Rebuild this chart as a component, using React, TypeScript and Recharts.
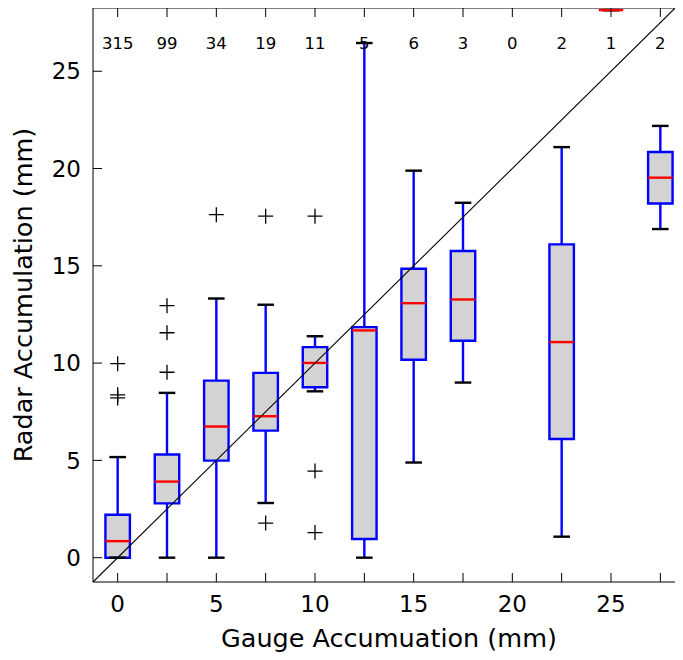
import React from 'react';
import { ComposedChart, XAxis, YAxis, ReferenceArea, ReferenceLine, Scatter } from 'recharts';

// Gauge accumulation bins (box positions) and sample counts
const positions = [0, 2.5, 5, 7.5, 10, 12.5, 15, 17.5, 20, 22.5, 25, 27.5];
const counts = [315, 99, 34, 19, 11, 5, 6, 3, 0, 2, 1, 2];

// Box statistics (radar accumulation, mm); null = empty bin
const whiskerLow = [0, 0, 0, 2.81, 8.55, 0, 4.89, 9.0, null, 1.08, 28.14, 16.89];
const q1s = [0, 2.79, 4.99, 6.53, 8.76, 0.96, 10.17, 11.15, null, 6.1, 28.14, 18.2];
const medians = [0.85, 3.91, 6.74, 7.27, 10.01, 11.68, 13.08, 13.27, null, 11.08, 28.14, 19.53];
const q3s = [2.21, 5.3, 9.1, 9.5, 10.82, 11.85, 14.85, 15.76, null, 16.1, 28.14, 20.85];
const whiskerHigh = [5.17, 8.47, 13.32, 13.0, 11.38, 26.45, 19.89, 18.24, null, 21.1, 28.14, 22.19];

// Outliers
const flierX = [0, 0, 0, 2.5, 2.5, 2.5, 5, 7.5, 7.5, 10, 10, 10];
const flierY = [9.97, 8.37, 8.21, 9.53, 11.56, 12.95, 17.63, 17.55, 1.78, 17.55, 4.45, 1.29];

// Axes
const xTicks = [0, 2.5, 5, 7.5, 10, 12.5, 15, 17.5, 20, 22.5, 25, 27.5];
const yTicks = [0, 5, 10, 15, 20, 25];
const xDomain = [-1.25, 28.75];
const yDomain = [-1.25, 28.25];
const countLabelY = 26.45;
const diagonal = [-1.25, 28.25];

const BOX_HALF = 0.62;
const CAP_HALF = 0.42;
const LW = 2.4;
const FONT = '"DejaVu Sans", Verdana, sans-serif';

const PlusMarker = (p: any) => {
  const { cx, cy } = p;
  if (cx == null || cy == null) return null;
  return (
    <path
      d={`M${cx - 7.5},${cy}H${cx + 7.5}M${cx},${cy - 7.5}V${cy + 7.5}`}
      stroke="#000"
      strokeWidth={1.3}
      fill="none"
    />
  );
};

const CountText = (p: any) => {
  const { cx, cy, payload } = p;
  if (cx == null || cy == null) return null;
  return (
    <text x={cx} y={cy} dy="0.36em" textAnchor="middle" fontSize={16.5} fontFamily={FONT} fill="#000">
      {payload.n}
    </text>
  );
};

const Hidden = () => null;

export default function App() {
  const boxes = positions
    .map((x, i) => ({
      x,
      lo: whiskerLow[i],
      q1: q1s[i],
      med: medians[i],
      q3: q3s[i],
      hi: whiskerHigh[i],
    }))
    .filter((b) => b.med != null) as { x: number; lo: number; q1: number; med: number; q3: number; hi: number }[];
  const fliers = flierX.map((x, i) => ({ x, y: flierY[i] }));
  const countData = positions.map((x, i) => ({ x, y: countLabelY, n: counts[i] }));

  const tickStyle = { fill: '#000', fontSize: 23, fontFamily: FONT };

  return (
    <div style={{ margin: -8, width: 683, height: 660, overflow: 'hidden', background: '#fff' }}>
      <ComposedChart width={700} height={660} margin={{ top: 7, right: 14, bottom: 0, left: 0 }}>
        <XAxis
          xAxisId="b"
          type="number"
          dataKey="x"
          domain={xDomain}
          allowDataOverflow
          ticks={xTicks}
          interval={0}
          tickFormatter={(v: number) => (v % 5 === 0 ? String(v) : '')}
          tickSize={-9}
          tickMargin={23}
          height={78}
          stroke="#000"
          tick={tickStyle}
          label={{
            value: 'Gauge Accumuation (mm)',
            position: 'insideBottom',
            offset: 13,
            fill: '#000',
            fontSize: 25.5,
            fontFamily: FONT,
          }}
        />
        <XAxis
          xAxisId="t"
          orientation="top"
          type="number"
          dataKey="x"
          domain={xDomain}
          allowDataOverflow
          ticks={xTicks}
          interval={0}
          tickFormatter={() => ''}
          tick={tickStyle}
          tickSize={-9}
          height={1}
          stroke="#000"
        />
        <YAxis
          yAxisId="l"
          type="number"
          dataKey="y"
          domain={yDomain}
          allowDataOverflow
          ticks={yTicks}
          interval={0}
          tickSize={-9}
          tickMargin={21}
          width={93}
          stroke="#000"
          tick={tickStyle}
          label={{
            value: 'Radar Accumulation (mm)',
            angle: -90,
            position: 'insideLeft',
            offset: 23,
            fill: '#000',
            fontSize: 25.5,
            fontFamily: FONT,
            style: { textAnchor: 'middle' },
          }}
        />
        <YAxis
          yAxisId="r"
          orientation="right"
          type="number"
          dataKey="y"
          domain={yDomain}
          allowDataOverflow
          ticks={yTicks}
          interval={0}
          tickFormatter={() => ''}
          tick={tickStyle}
          tickSize={-9}
          width={1}
          stroke="#000"
        />

        {boxes.map((b) => (
          <ReferenceArea
            key={`box-${b.x}`}
            xAxisId="b"
            yAxisId="l"
            x1={b.x - BOX_HALF}
            x2={b.x + BOX_HALF}
            y1={b.q1}
            y2={b.q3}
            fill="#d3d3d3"
            fillOpacity={1}
            stroke="#0000ff"
            strokeWidth={LW}
            ifOverflow="visible"
          />
        ))}
        {boxes.map((b) => (
          <ReferenceLine
            key={`wl-${b.x}`}
            xAxisId="b"
            yAxisId="l"
            segment={[{ x: b.x, y: b.lo }, { x: b.x, y: b.q1 }]}
            stroke="#0000ff"
            strokeWidth={LW}
            ifOverflow="visible"
          />
        ))}
        {boxes.map((b) => (
          <ReferenceLine
            key={`wh-${b.x}`}
            xAxisId="b"
            yAxisId="l"
            segment={[{ x: b.x, y: b.q3 }, { x: b.x, y: b.hi }]}
            stroke="#0000ff"
            strokeWidth={LW}
            ifOverflow="visible"
          />
        ))}
        {boxes.map((b) => (
          <ReferenceLine
            key={`cl-${b.x}`}
            xAxisId="b"
            yAxisId="l"
            segment={[{ x: b.x - CAP_HALF, y: b.lo }, { x: b.x + CAP_HALF, y: b.lo }]}
            stroke="#000"
            strokeWidth={LW}
            ifOverflow="visible"
          />
        ))}
        {boxes.map((b) => (
          <ReferenceLine
            key={`ch-${b.x}`}
            xAxisId="b"
            yAxisId="l"
            segment={[{ x: b.x - CAP_HALF, y: b.hi }, { x: b.x + CAP_HALF, y: b.hi }]}
            stroke="#000"
            strokeWidth={LW}
            ifOverflow="visible"
          />
        ))}
        {boxes.map((b) => (
          <ReferenceLine
            key={`md-${b.x}`}
            xAxisId="b"
            yAxisId="l"
            segment={[{ x: b.x - BOX_HALF, y: b.med }, { x: b.x + BOX_HALF, y: b.med }]}
            stroke="#ff0000"
            strokeWidth={LW}
            ifOverflow="visible"
          />
        ))}

        <Scatter
          xAxisId="b"
          yAxisId="l"
          data={fliers}
          dataKey="y"
          shape={PlusMarker}
          isAnimationActive={false}
        />
        <Scatter
          xAxisId="b"
          yAxisId="l"
          data={countData}
          dataKey="y"
          shape={CountText}
          isAnimationActive={false}
        />
        <Scatter
          xAxisId="t"
          yAxisId="r"
          data={countData}
          dataKey="y"
          shape={Hidden}
          isAnimationActive={false}
        />

        <ReferenceLine
          xAxisId="b"
          yAxisId="l"
          segment={[{ x: diagonal[0], y: diagonal[0] }, { x: diagonal[1], y: diagonal[1] }]}
          stroke="#000"
          strokeWidth={1.1}
          ifOverflow="visible"
        />
      </ComposedChart>
    </div>
  );
}
